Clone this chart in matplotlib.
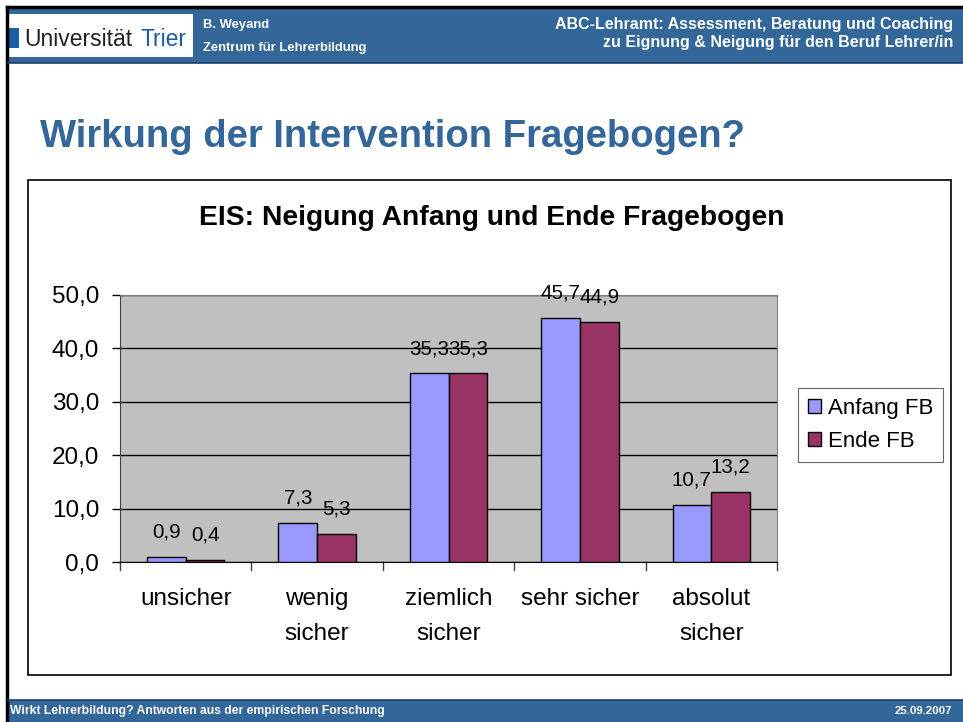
import matplotlib
matplotlib.use("Agg")
import matplotlib.pyplot as plt
from matplotlib.patches import Rectangle
from matplotlib.lines import Line2D
import numpy as np

plt.rcParams['font.family'] = ['Liberation Sans', 'DejaVu Sans']

categories = ["unsicher", "wenig\nsicher", "ziemlich\nsicher", "sehr sicher", "absolut\nsicher"]
anfang = [0.9, 7.3, 35.3, 45.7, 10.7]
ende = [0.4, 5.3, 35.3, 44.9, 13.2]
series_names = ["Anfang FB", "Ende FB"]
yticks = [0, 10, 20, 30, 40, 50]

W, H = 963, 722
fig = plt.figure(figsize=(W / 100, H / 100), dpi=100)
fig.patch.set_facecolor("white")

def fx(x):
    return x / W

def fy(y):
    return 1 - y / H

blue = "#336699"
# slide frame
fig.add_artist(Line2D([fx(7), fx(7)], [fy(7), fy(722)], color="black", lw=2.5))
fig.add_artist(Line2D([fx(7), fx(963)], [fy(7), fy(7)], color="black", lw=2.5))
# header band
fig.add_artist(Rectangle((fx(8), fy(63)), fx(955), 54 / H, color=blue, lw=0))
fig.add_artist(Line2D([fx(8), fx(963)], [fy(63), fy(63)], color="#1f3f66", lw=1.2))
# logo box
fig.add_artist(Rectangle((fx(8), fy(57)), fx(185), 43 / H, color="white", lw=0))
fig.add_artist(Rectangle((fx(9), fy(48)), fx(10), 20 / H, color="#1a5ea8", lw=0))
fig.text(fx(24), fy(39), "Universität", fontsize=16.5, color="#222222", va="center", ha="left")
fig.text(fx(140), fy(39), "Trier", fontsize=16.5, color="#1a5ea8", va="center", ha="left")
fig.text(fx(203), fy(25), "B. Weyand", fontsize=9.4, color="white", fontweight="bold", va="center")
fig.text(fx(203), fy(48), "Zentrum für Lehrerbildung", fontsize=9.4, color="white", fontweight="bold", va="center")
fig.text(fx(953), fy(24), "ABC-Lehramt: Assessment, Beratung und Coaching", fontsize=11.5, color="white",
         fontweight="bold", va="center", ha="right")
fig.text(fx(953), fy(43), "zu Eignung & Neigung für den Beruf Lehrer/in", fontsize=11.5, color="white",
         fontweight="bold", va="center", ha="right")
# footer
fig.add_artist(Rectangle((fx(8), 0), fx(955), 22 / H, color=blue, lw=0))
fig.add_artist(Line2D([fx(8), fx(963)], [fy(700), fy(700)], color="#1f3f66", lw=1.2))
fig.text(fx(10), fy(711), "Wirkt Lehrerbildung? Antworten aus der empirischen Forschung", fontsize=8.7,
         color="white", fontweight="bold", va="center")
fig.text(fx(952), fy(711), "25.09.2007", fontsize=8.2, color="white", fontweight="bold", va="center", ha="right")

# main title
fig.text(fx(40), fy(137), "Wirkung der Intervention Fragebogen?", fontsize=27.5, color=blue,
         fontweight="bold", va="center", ha="left")

# chart box
fig.add_artist(Rectangle((fx(28), fy(675)), fx(923), 495 / H, fill=False, ec="black", lw=1.2))
fig.text(fx(492), fy(218), "EIS: Neigung Anfang und Ende Fragebogen", fontsize=20.3, fontweight="bold",
         ha="center", va="center")

ax = fig.add_axes([fx(120), fy(562), fx(657), 267 / H])
ax.set_facecolor("#C0C0C0")
x = np.arange(len(categories))
bw = 0.295
b1 = ax.bar(x - bw / 2, anfang, bw, color="#9999FF", edgecolor="black", lw=1, label=series_names[0], zorder=3)
b2 = ax.bar(x + bw / 2, ende, bw, color="#993366", edgecolor="black", lw=1, label=series_names[1], zorder=3)
fmt = lambda v: f"{v:.1f}".replace(".", ",")
for bars, vals in ((b1, anfang), (b2, ende)):
    for r, v in zip(bars, vals):
        ax.annotate(fmt(v), (r.get_x() + r.get_width() / 2, v), xytext=(0, 14), textcoords="offset points",
                    ha="center", va="baseline", fontsize=14.8, zorder=5, annotation_clip=False)
ax.set_xlim(-0.5, len(categories) - 0.5)
ax.set_ylim(0, 50)
ax.set_yticks(yticks)
ax.set_yticklabels([fmt(t) for t in yticks], fontsize=17.5)
ax.yaxis.grid(True, color="black", lw=1, zorder=1)
ax.set_axisbelow(True)
ax.set_xticks(x)
ax.set_xticklabels(categories, fontsize=17.5, linespacing=1.75, va="top")
ax.tick_params(axis="x", length=0, pad=19)
ax.tick_params(axis="y", direction="out", length=6, width=1, pad=9)
for b in np.arange(-0.5, len(categories), 1.0):
    ax.plot([b, b], [0, -1.5], color="#404040", lw=1, clip_on=False)
for s in ["top", "right"]:
    ax.spines[s].set_color("#808080")
ax.spines["left"].set_color("#404040")
ax.spines["bottom"].set_color("black")

leg = fig.legend(handles=[b1, b2], labels=series_names, loc="upper left",
                 bbox_to_anchor=(fx(798), fy(388)), fontsize=16, frameon=True, fancybox=False,
                 edgecolor="#404040", handlelength=0.6, handleheight=0.6, handletextpad=0.3,
                 borderpad=0.45, labelspacing=0.55, borderaxespad=0)
leg.get_frame().set_linewidth(0.8)

fig.savefig("out.png", dpi=100)
